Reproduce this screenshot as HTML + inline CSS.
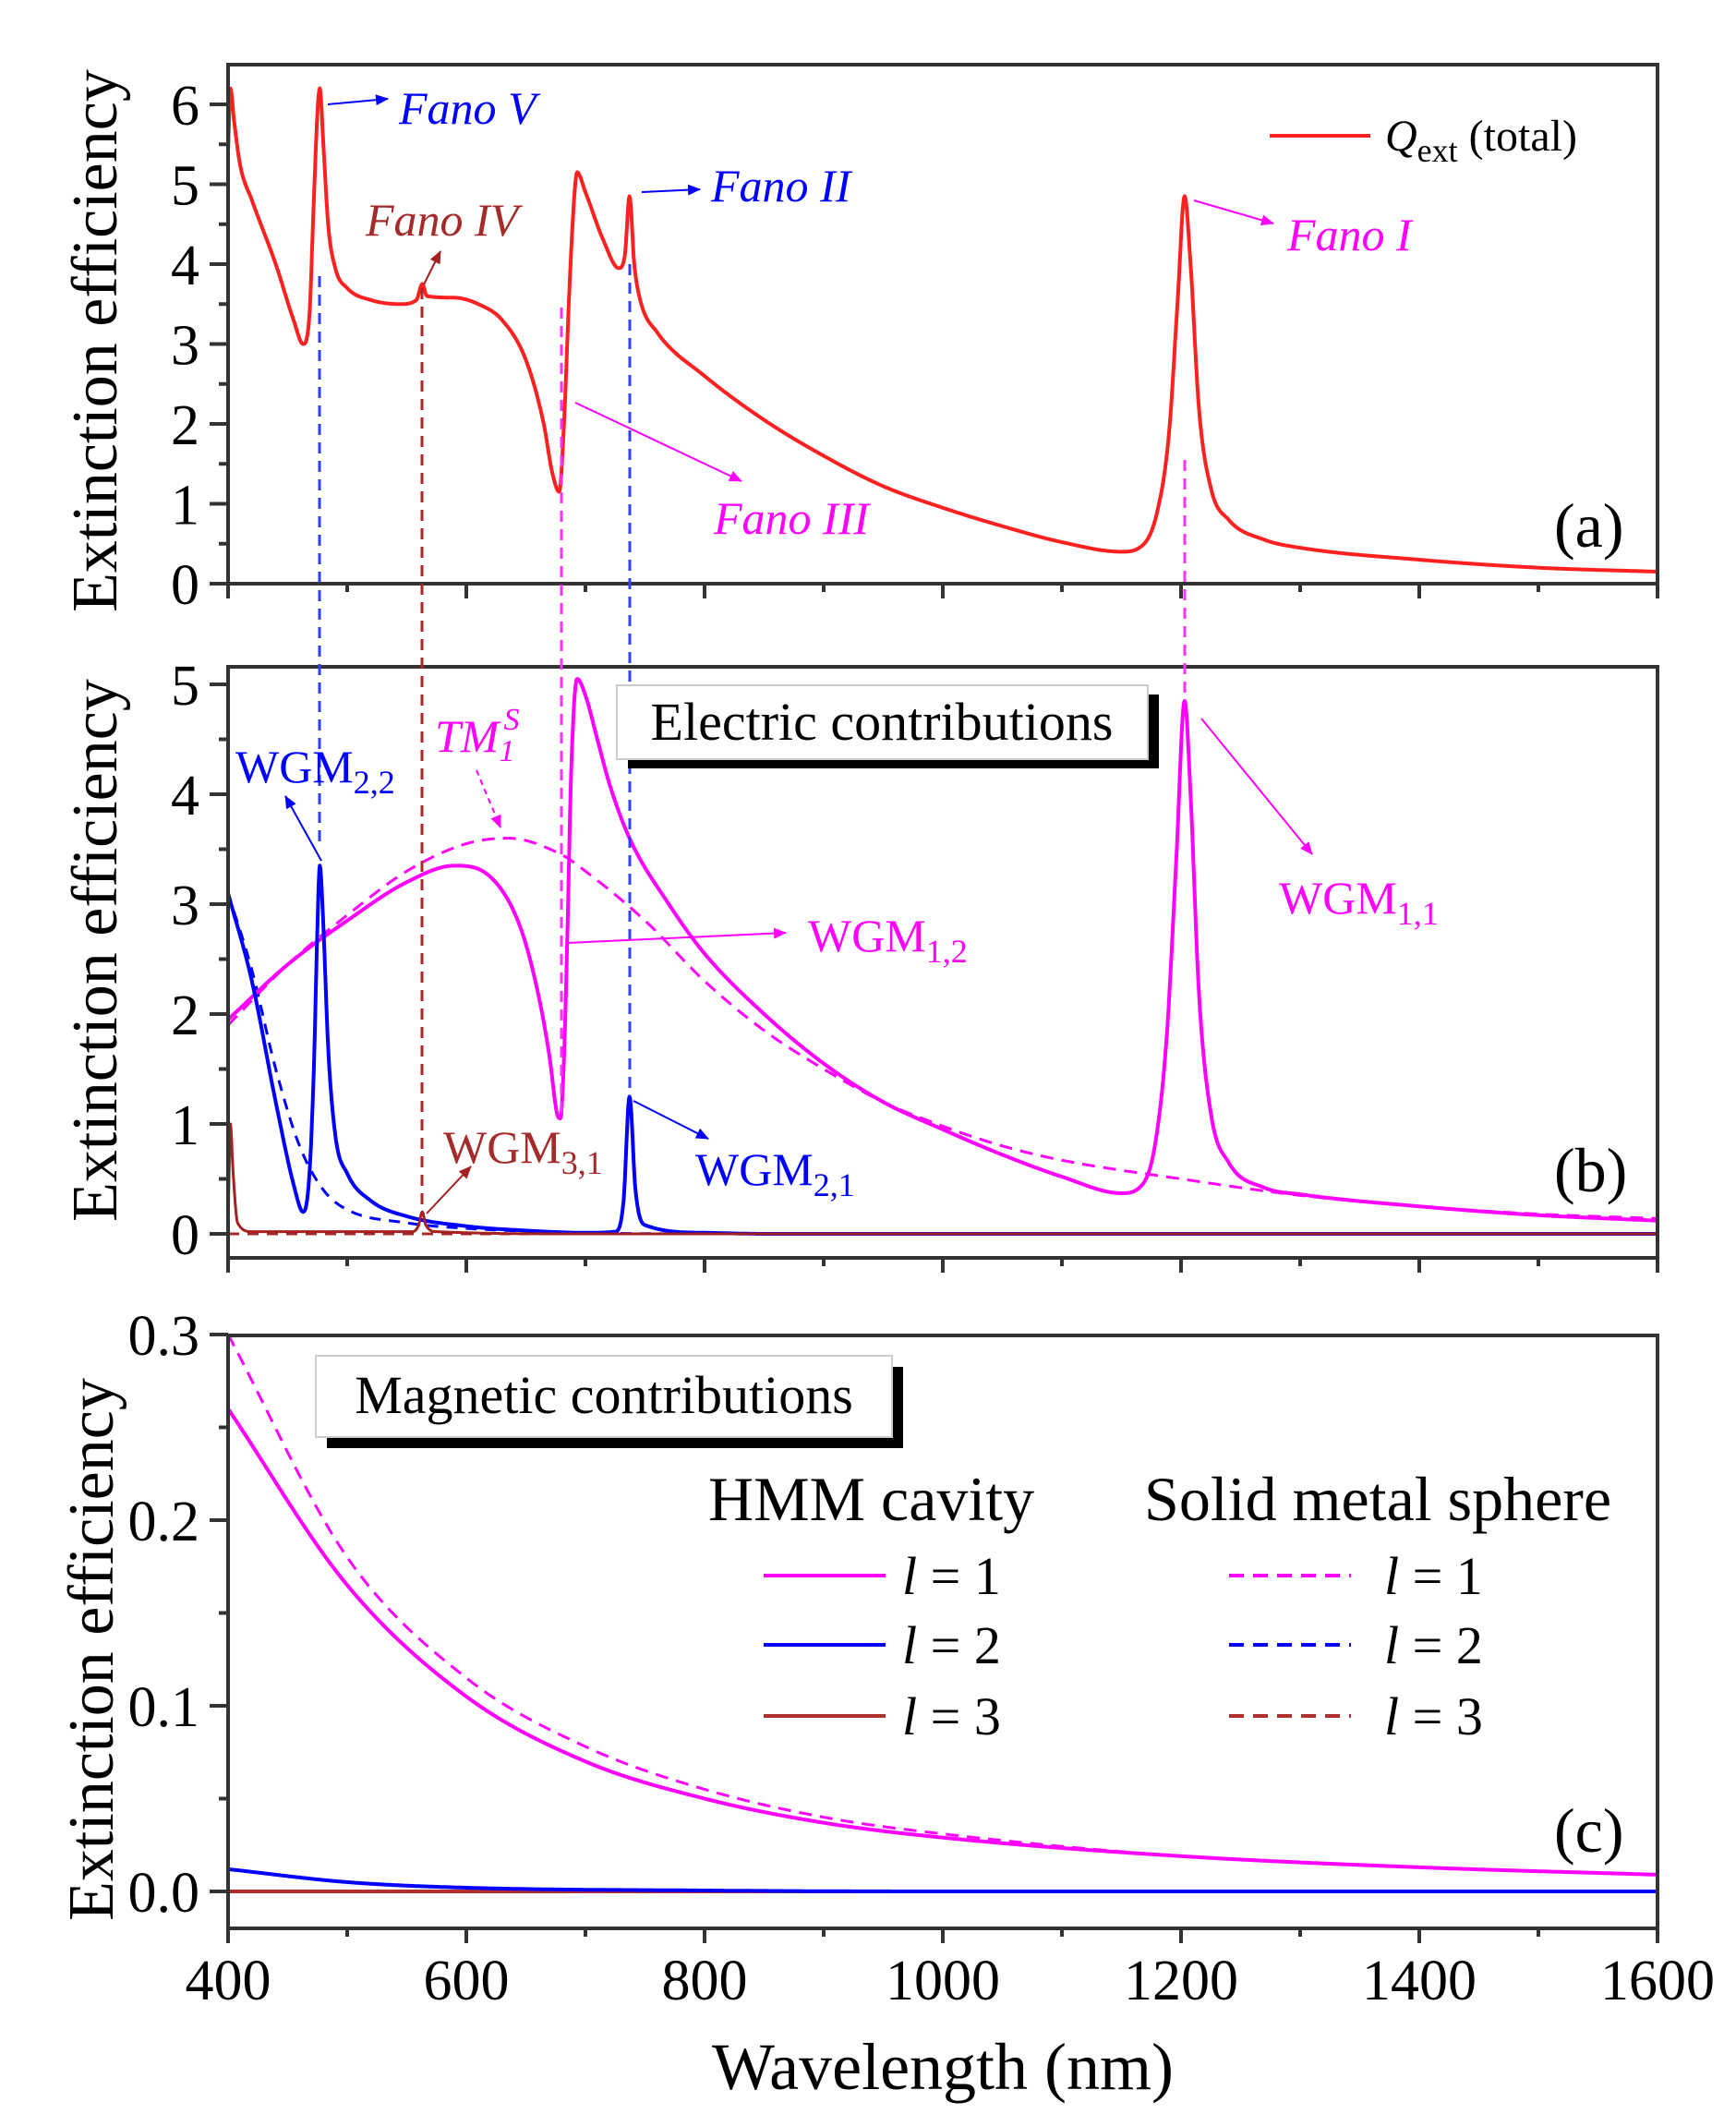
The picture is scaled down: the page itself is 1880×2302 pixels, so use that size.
<!DOCTYPE html>
<html><head><meta charset="utf-8"><style>
html,body{margin:0;padding:0;background:#fff;}
svg{display:block;font-family:"Liberation Serif",serif;}
</style></head><body>
<svg id="s" width="1880" height="2302" viewBox="0 0 1880 2302" xmlns="http://www.w3.org/2000/svg">
<defs>
<clipPath id="ca"><rect x="247" y="70" width="1548" height="562"/></clipPath>
<clipPath id="cb"><rect x="247" y="722" width="1548" height="640"/></clipPath>
<clipPath id="cc"><rect x="247" y="1446" width="1548" height="642"/></clipPath>
<marker id="am" markerWidth="14" markerHeight="12" refX="13" refY="6" orient="auto" markerUnits="userSpaceOnUse"><path d="M0,0 L14,6 L0,12z" fill="#ff00ff"/></marker>
<marker id="abl" markerWidth="14" markerHeight="12" refX="13" refY="6" orient="auto" markerUnits="userSpaceOnUse"><path d="M0,0 L14,6 L0,12z" fill="#0000ff"/></marker>
<marker id="abr" markerWidth="14" markerHeight="12" refX="13" refY="6" orient="auto" markerUnits="userSpaceOnUse"><path d="M0,0 L14,6 L0,12z" fill="#a52020"/></marker>
</defs>
<g id="curves"></g>
<g id="axes" stroke="#333" fill="none" stroke-width="4"></g>

<g stroke-width="3" stroke-dasharray="12 8" fill="none">
<line x1="346" y1="299" x2="346" y2="919" stroke="#3040ff"/>
<line x1="457" y1="312" x2="457" y2="1312" stroke="#a52a2a"/>
<line x1="608" y1="333" x2="608" y2="1205" stroke="#ff30ff"/>
<line x1="682" y1="286" x2="682" y2="1187" stroke="#3040ff"/>
<line x1="1283" y1="498" x2="1283" y2="759" stroke="#ff30ff"/>
</g>

<g font-style="italic" font-size="50">
<text x="432" y="134" fill="#0000ff">Fano V</text>
<text x="396" y="255" fill="#a52a2a">Fano IV</text>
<text x="770" y="218" fill="#0000ff">Fano II</text>
<text x="1394" y="271" fill="#ff00ff">Fano I</text>
<text x="773" y="578" fill="#ff00ff">Fano III</text>
</g>
<g stroke-width="2" fill="none">
<line x1="355" y1="113" x2="420" y2="107" stroke="#0000ff" marker-end="url(#abl)"/>
<line x1="459" y1="308" x2="477" y2="272" stroke="#a52020" marker-end="url(#abr)"/>
<line x1="695" y1="208" x2="758" y2="205" stroke="#0000ff" marker-end="url(#abl)"/>
<line x1="1293" y1="217" x2="1379" y2="242" stroke="#ff00ff" marker-end="url(#am)"/>
<line x1="623" y1="436" x2="803" y2="521" stroke="#ff00ff" marker-end="url(#am)"/>
</g>
<line x1="1375" y1="147" x2="1484" y2="147" stroke="#ff2020" stroke-width="4"/>
<text x="1500" y="163" font-size="48"><tspan font-style="italic">Q</tspan><tspan font-size="36" dy="12">ext</tspan><tspan dy="-12"> (total)</tspan></text>
<text x="1683" y="592" font-size="68">(a)</text>

<rect x="680" y="752" width="575" height="80" fill="#000"/>
<rect x="668" y="742" width="575" height="80" fill="#fff" stroke="#ccc" stroke-width="2"/>
<text x="955" y="801" font-size="58" text-anchor="middle">Electric contributions</text>
<text x="255" y="847" font-size="50" fill="#0000ff">WGM<tspan font-size="36" dy="12">2,2</tspan></text>
<text x="471" y="814" font-size="50" fill="#ff00ff" font-style="italic">TM<tspan font-size="34" dy="10">1</tspan><tspan font-size="34" dx="-12" dy="-34">S</tspan></text>
<text x="875" y="1030" font-size="50" fill="#ff00ff">WGM<tspan font-size="36" dy="12">1,2</tspan></text>
<text x="1385" y="989" font-size="50" fill="#ff00ff">WGM<tspan font-size="36" dy="12">1,1</tspan></text>
<text x="480" y="1259" font-size="50" fill="#a52a2a">WGM<tspan font-size="36" dy="12">3,1</tspan></text>
<text x="753" y="1283" font-size="50" fill="#0000ff">WGM<tspan font-size="36" dy="12">2,1</tspan></text>
<g stroke-width="2" fill="none">
<line x1="348" y1="932" x2="309" y2="862" stroke="#0000ff" marker-end="url(#abl)"/>
<line x1="516" y1="834" x2="542" y2="896" stroke="#ff00ff" stroke-dasharray="6 5" marker-end="url(#am)"/>
<line x1="614" y1="1021" x2="851" y2="1010" stroke="#ff00ff" marker-end="url(#am)"/>
<line x1="1301" y1="778" x2="1421" y2="925" stroke="#ff00ff" marker-end="url(#am)"/>
<line x1="462" y1="1314" x2="510" y2="1263" stroke="#a52020" marker-end="url(#abr)"/>
<line x1="686" y1="1192" x2="767" y2="1233" stroke="#0000ff" marker-end="url(#abl)"/>
</g>
<text x="1683" y="1290" font-size="68">(b)</text>

<rect x="354" y="1480" width="624" height="88" fill="#000"/>
<rect x="342" y="1468" width="624" height="88" fill="#fff" stroke="#ccc" stroke-width="2"/>
<text x="654" y="1530" font-size="58" text-anchor="middle">Magnetic contributions</text>
<text x="767" y="1646" font-size="68">HMM cavity</text>
<text x="1239" y="1646" font-size="68">Solid metal sphere</text>
<g stroke-width="4">
<line x1="827" y1="1706" x2="959" y2="1706" stroke="#ff00ff"/>
<line x1="827" y1="1781" x2="959" y2="1781" stroke="#0000ff"/>
<line x1="827" y1="1858" x2="959" y2="1858" stroke="#b03030"/>
<line x1="1331" y1="1706" x2="1463" y2="1706" stroke="#ff00ff" stroke-dasharray="16 10"/>
<line x1="1331" y1="1781" x2="1463" y2="1781" stroke="#0000ff" stroke-dasharray="16 10"/>
<line x1="1331" y1="1858" x2="1463" y2="1858" stroke="#b03030" stroke-dasharray="16 10"/>
</g>
<g font-size="58">
<text x="977" y="1726"><tspan font-style="italic">l</tspan> = 1</text>
<text x="977" y="1801"><tspan font-style="italic">l</tspan> = 2</text>
<text x="977" y="1878"><tspan font-style="italic">l</tspan> = 3</text>
<text x="1499" y="1726"><tspan font-style="italic">l</tspan> = 1</text>
<text x="1499" y="1801"><tspan font-style="italic">l</tspan> = 2</text>
<text x="1499" y="1878"><tspan font-style="italic">l</tspan> = 3</text>
</g>
<text x="1683" y="2005" font-size="68">(c)</text>

<g font-size="62" text-anchor="end" id="ylabs"></g>
<g font-size="62" text-anchor="middle" id="xlabs"></g>
<text x="1021" y="2262" font-size="72" text-anchor="middle">Wavelength (nm)</text>
<g font-size="70" text-anchor="middle">
<text transform="translate(126,369) rotate(-90)">Extinction efficiency</text>
<text transform="translate(126,1029) rotate(-90)">Extinction efficiency</text>
<text transform="translate(122,1786) rotate(-90)">Extinction efficiency</text>
</g>
</svg>
<script>
var NS="http://www.w3.org/2000/svg";
function mono(p){var n=p.length,xs=p.map(a=>a[0]),ys=p.map(a=>a[1]),d=[],m=[];
for(var i=0;i<n-1;i++)d.push((ys[i+1]-ys[i])/(xs[i+1]-xs[i]));
m[0]=d[0];m[n-1]=d[n-2];for(i=1;i<n-1;i++){if(d[i-1]*d[i]<=0)m[i]=0;else m[i]=(d[i-1]+d[i])/2;}
for(i=0;i<n-1;i++){if(d[i]==0){m[i]=0;m[i+1]=0;continue;}var a=m[i]/d[i],b=m[i+1]/d[i],s=a*a+b*b;if(s>9){var t=3/Math.sqrt(s);m[i]=t*a*d[i];m[i+1]=t*b*d[i];}}
return function(x){if(x<=xs[0])return ys[0];if(x>=xs[n-1])return ys[n-1];var k=0;while(xs[k+1]<x)k++;var h=xs[k+1]-xs[k],t=(x-xs[k])/h,t2=t*t,t3=t2*t;
return (2*t3-3*t2+1)*ys[k]+(t3-2*t2+t)*h*m[k]+(-2*t3+3*t2)*ys[k+1]+(t3-t2)*h*m[k+1];};}
function X(l){return 247+(l-400)*1.29;}
var g=document.getElementById("curves");
function curve(pts,Y,col,clip,dash,w){var f=mono(pts),d="";for(var l=400;l<=1600;l+=0.5){d+=(l==400?"M":"L")+X(l).toFixed(1)+","+Y(f(l)).toFixed(1);}
var p=document.createElementNS(NS,"path");p.setAttribute("d",d);p.setAttribute("fill","none");p.setAttribute("stroke",col);p.setAttribute("stroke-width",w||4);p.setAttribute("stroke-linejoin","round");p.setAttribute("clip-path","url(#"+clip+")");if(dash)p.setAttribute("stroke-dasharray",dash);g.appendChild(p);}
function Ya(v){return 632-v*86.5;}function Yb(v){return 1336-v*119;}function Yc(v){return 2048-v*2010;}
curve([[400,5.4],[402,6.2],[405,5.8],[410,5.25],[420,4.8],[440,4.0],[455,3.3],[463,3.0],[468,3.3],[472,4.8],[475,5.9],[477,6.2],[480,5.5],[484,4.5],[490,3.95],[500,3.7],[520,3.55],[545,3.5],[558,3.55],[563,3.75],[567,3.6],[590,3.58],[610,3.5],[630,3.3],[650,2.8],[665,2.0],[672,1.4],[678,1.15],[682,2.0],[686,3.5],[690,4.7],[693,5.15],[700,4.9],[715,4.3],[728,3.95],[733,4.1],[737,4.85],[741,4.0],[746,3.55],[760,3.15],[800,2.6],[850,2.05],[900,1.6],[950,1.22],[1000,0.95],[1050,0.72],[1100,0.52],[1150,0.4],[1165,0.45],[1180,0.9],[1190,1.9],[1197,3.5],[1203,4.85],[1208,4.0],[1215,2.2],[1225,1.2],[1240,0.8],[1270,0.55],[1300,0.45],[1400,0.3],[1500,0.2],[1600,0.15]],Ya,"#ff2020","ca");
curve([[400,1.9],[450,2.45],[500,2.9],[550,3.3],[600,3.55],[635,3.6],[680,3.45],[700,3.3],[750,2.85],[800,2.3],[850,1.85],[900,1.5],[950,1.2],[1000,0.98],[1050,0.8],[1100,0.67],[1200,0.5],[1300,0.35],[1400,0.25],[1500,0.18],[1600,0.14]],Yb,"#ff00ff","cb","14 9",3);
curve([[400,3.1],[420,2.4],[440,1.5],[460,0.8],[480,0.4],[500,0.22],[550,0.1],[600,0.05],[700,0.01],[800,0],[1600,0]],Yb,"#0000ff","cb","12 9",3);
curve([[400,0],[1600,0]],Yb,"#a52a2a","cb","12 9",3);
curve([[400,1.95],[450,2.45],[500,2.85],[550,3.2],[590,3.35],[620,3.25],[645,2.8],[660,2.2],[670,1.6],[676,1.1],[679,1.05],[682,1.6],[685,2.8],[688,4.2],[693,5.05],[700,4.9],[710,4.5],[720,4.1],[737,3.6],[770,3.0],[800,2.55],[850,2.0],[900,1.55],[950,1.2],[1000,0.95],[1050,0.72],[1100,0.52],[1150,0.37],[1165,0.42],[1178,0.8],[1188,1.8],[1196,3.4],[1203,4.85],[1208,4.0],[1215,2.2],[1225,1.1],[1240,0.65],[1270,0.42],[1300,0.36],[1400,0.25],[1500,0.17],[1600,0.12]],Yb,"#ff00ff","cb");
curve([[400,3.1],[420,2.3],[440,1.2],[455,0.45],[463,0.2],[468,0.5],[472,1.5],[475,2.8],[477,3.35],[480,2.8],[484,1.7],[490,0.9],[500,0.55],[520,0.3],[550,0.16],[600,0.07],[650,0.03],[700,0.01],[725,0.02],[732,0.3],[737,1.25],[742,0.4],[750,0.08],[800,0.01],[850,0],[1600,0]],Yb,"#0000ff","cb");
curve([[400,0.05],[402,1.0],[404,0.6],[408,0.1],[420,0.02],[555,0.02],[560,0.08],[563,0.2],[566,0.08],[575,0.02],[700,0],[1600,0]],Yb,"#a52020","cb",null,3);
curve([[400,0.3],[500,0.18],[600,0.115],[700,0.078],[800,0.055],[900,0.04],[1000,0.031],[1200,0.019],[1400,0.013],[1600,0.009]],Yc,"#ff00ff","cc","14 9",3);
curve([[400,0.26],[500,0.165],[600,0.105],[700,0.07],[800,0.05],[900,0.037],[1000,0.029],[1200,0.019],[1400,0.013],[1600,0.009]],Yc,"#ff00ff","cc");
curve([[400,0],[1600,0]],Yc,"#b03030","cc",null,4);
curve([[400,0.012],[500,0.005],[600,0.002],[800,0.0005],[1000,0],[1600,0]],Yc,"#0000ff","cc");
curve([[400,0.012],[500,0.005],[600,0.002],[800,0.0005],[1000,0],[1600,0]],Yc,"#0000ff","cc","12 9",3);
var ax=document.getElementById("axes"),yl=document.getElementById("ylabs"),xl=document.getElementById("xlabs");
function el(tag,at,par){var e=document.createElementNS(NS,tag);for(var k in at)e.setAttribute(k,at[k]);par.appendChild(e);return e;}
function frame(top,bot){el("rect",{x:247,y:top,width:1548,height:bot-top},ax);
for(var l=400;l<=1600;l+=100){var L=(l%200==0)?16:9;el("line",{x1:X(l),y1:bot,x2:X(l),y2:bot+L},ax);}}
frame(70,632);frame(722,1362);frame(1446,2088);
function yt(Y,vals,minors,fmt){vals.forEach(function(v){el("line",{x1:227,y1:Y(v),x2:247,y2:Y(v)},ax);var t=el("text",{x:216,y:Y(v)+22},yl);t.textContent=fmt(v);});
minors.forEach(function(v){el("line",{x1:237,y1:Y(v),x2:247,y2:Y(v)},ax);});}
yt(Ya,[0,1,2,3,4,5,6],[0.5,1.5,2.5,3.5,4.5,5.5],v=>""+v);
yt(Yb,[0,1,2,3,4,5],[0.5,1.5,2.5,3.5,4.5],v=>""+v);
yt(Yc,[0,0.1,0.2,0.3],[0.05,0.15,0.25],v=>v.toFixed(1));
for(var l=400;l<=1600;l+=200){var t=el("text",{x:X(l),y:2165},xl);t.textContent=""+l;}
</script>
</body></html>
